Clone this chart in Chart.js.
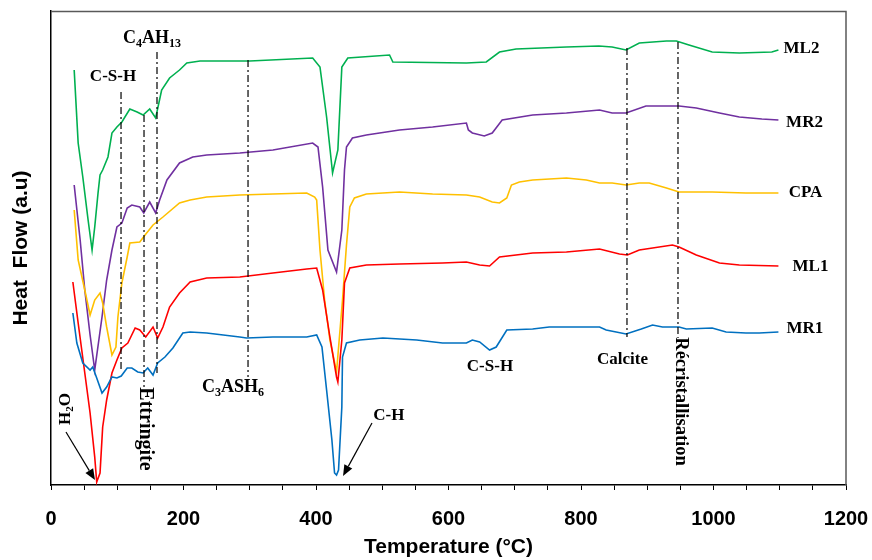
<!DOCTYPE html>
<html><head><meta charset="utf-8">
<script src="https://cdn.jsdelivr.net/npm/chart.js@4/dist/chart.umd.min.js"></script>
<style>html,body{margin:0;padding:0;background:#fff}</style>
</head><body>
<canvas id="c" width="872" height="560"></canvas>
<script>
// ---- data (temperature °C, heat flow a.u.) ----
const ML2_T = [35,41,48,56,62,66,71,74,78,86,92,99.5,107,119,130,139,149,158,167,179,194,205,225,300,395,406,416,425,433,439,448,511,516,627,657,677,702,778,827,847,868,888,929,944,963,998,1039,1088,1098];
const ML2_V = [415,342,308,265,235,258,292,310,315,328,352,358,363,376,373,370,376,367,395,407,415,422,424,424,427,418,368,312,335,418,427,430,423,422,423,433,436,438,439,438,435,442,444,444,440,433,432,433,435];

const MR2_T = [35,44,51,59,66,77,84,92,99.5,107,115,122,134,140,149,158,164,175,194,214,235,285,335,395,403,410,418,431,439,443,446,455,476,526,576,627,630,636,654,666,681,727,778,828,847,868,898,948,974,1009,1039,1073,1098];
const MR2_V = [300,245,195,150,115,168,205,235,258,262,277,280,278,272,283,272,285,305,322,328,330,332,335,342,338,298,235,213,255,315,338,347,350,355,358,362,355,352,349,352,365,370,372,375,372,372,379,379,377,372,368,366,365];

const CPA_T = [35,41,51,59,66,74,78,84,92,98,101,107,115,119,134,142,154,169,194,210,235,285,335,386,398,401,406,413,421,431,440,446,451,458,476,526,576,627,647,666,677,688,695,707,727,778,808,828,847,868,888,903,929,948,998,1049,1098];
const CPA_V = [275,225,195,170,185,192,182,158,130,138,168,202,228,242,243,250,260,268,282,285,288,290,291,292,288,285,235,185,145,113,185,240,278,287,291,293,291,290,288,283,282,287,300,303,305,307,305,302,302,300,302,302,297,293,293,292,292];

const ML1_T = [33,41,51,59,66,69,74,78,84,92,99.5,107,116,127,134,143,154,161,169,179,194,210,235,285,335,386,401,410,421,431,433,439,443,451,476,526,591,627,647,662,677,727,778,828,858,870,888,938,948,974,1009,1039,1098];
const ML1_V = [203,162,112,72,28,3,12,58,85,112,125,137,142,157,155,148,158,147,158,178,192,203,207,208,212,216,217,195,148,108,103,145,202,217,220,221,222,223,220,219,228,232,233,236,231,230,235,240,238,230,222,220,219];

const MR1_T = [33,39,48,59,63,69,77,84,92,99.5,106,115,122,131,139,146,154,161,172,184,199,210,235,285,295,335,386,401,409,416,424,428,431,434,439,440,446,466,501,552,591,627,636,647,662,672,688,727,752,828,838,868,891,908,923,948,959,998,1019,1049,1069,1098];
const MR1_V = [172,142,122,115,118,107,92,98,108,107,109,117,117,113,112,117,110,122,128,137,152,153,152,148,147,148,148,150,138,95,45,12,10,15,78,128,142,145,147,145,142,142,145,143,135,138,155,156,158,158,155,151,156,160,158,158,156,157,153,152,152,153];

// vertical dash-dot marker lines
const MARK_T      = [105.7, 140.4, 160, 297.4, 869.4, 946.4];
const MARK_TOP    = [393, 370, 433, 425, 437, 443];
const MARK_BOTTOM = [113, 98, 112, 108, 148, 147];

// x tick labels
const X_TICK_LABELS = [0, 200, 400, 600, 800, 1000, 1200];

// series names & colors
const SERIES_NAMES = ['MR1', 'ML1', 'CPA', 'MR2', 'ML2'];
const SERIES_COLORS = ['#0070C0', '#FF0000', '#FFC000', '#7030A0', '#00B050'];
const SERIES_T = [MR1_T, ML1_T, CPA_T, MR2_T, ML2_T];
const SERIES_V = [MR1_V, ML1_V, CPA_V, MR2_V, ML2_V];
const SERIES_LABEL_AT = [[1138, 157.5], [1146.4, 219.5], [1138.9, 294], [1137.4, 364], [1132.8, 437.5]];

// annotation texts: segments [text, isSubscript], position (T, v), rotation (deg)
const NOTES = [
  {segs: [['C'], ['4', 1], ['AH'], ['13', 1]], at: [152.5, 447.5], rot: 0, size: 18},
  {segs: [['C-S-H']], at: [93.6, 410], rot: 0, size: 17},
  {segs: [['Ettringite']], at: [144.9, 56], rot: 90, size: 20},
  {segs: [['C'], ['3', 1], ['ASH'], ['6', 1]], at: [274.7, 99], rot: 0, size: 18},
  {segs: [['H'], ['2', 1], ['O']], at: [19.6, 76], rot: -90, size: 17},
  {segs: [['C-H']], at: [510, 71], rot: 0, size: 17},
  {segs: [['C-S-H']], at: [662.6, 120], rot: 0, size: 17},
  {segs: [['Calcite']], at: [862.6, 127], rot: 0, size: 17},
  {segs: [['Récristallisation']], at: [953, 83.5], rot: 90, size: 18.5}
];
// arrows: from (T,v) to tip (T,v)
const ARROWS = [
  {from: [22.6, 53], to: [66.4, 5]},
  {from: [484.5, 62], to: [440.8, 9]}
];

const datasets = [];
for (let i = 0; i < MARK_T.length; i++) {
  datasets.push({
    data: [{x: MARK_T[i], y: MARK_TOP[i]}, {x: MARK_T[i], y: MARK_BOTTOM[i]}],
    borderColor: '#000', borderWidth: 1.2, borderDash: [7, 3, 2, 3],
    pointRadius: 0, fill: false
  });
}
for (let s = 0; s < SERIES_NAMES.length; s++) {
  datasets.push({
    label: SERIES_NAMES[s],
    data: SERIES_T[s].map((t, k) => ({x: t, y: SERIES_V[s][k]})),
    borderColor: SERIES_COLORS[s], borderWidth: 1.6,
    pointRadius: 0, fill: false, tension: 0
  });
}

const SERIF = '"Liberation Serif", "Times New Roman", serif';
function drawRich(ctx, segs, size) {
  const sub = Math.round(size * 0.65);
  let w = 0;
  const parts = segs.map(([t, s]) => {
    ctx.font = 'bold ' + (s ? sub : size) + 'px ' + SERIF;
    const pw = ctx.measureText(t).width; w += pw;
    return {t, s, pw};
  });
  let x = -w / 2;
  const base = size * 0.33;
  ctx.textBaseline = 'alphabetic'; ctx.textAlign = 'left';
  for (const p of parts) {
    ctx.font = 'bold ' + (p.s ? sub : size) + 'px ' + SERIF;
    ctx.fillText(p.t, x, p.s ? base + size * 0.22 : base);
    x += p.pw;
  }
}

const notesPlugin = {
  id: 'notes',
  afterDatasetsDraw(chart) {
    const {ctx, chartArea: a, scales: {x, y}} = chart;
    ctx.save();
    // top & right frame
    ctx.strokeStyle = '#595959'; ctx.lineWidth = 1.5;
    ctx.beginPath(); ctx.moveTo(a.left, a.top + 0.5); ctx.lineTo(a.right, a.top + 0.5); ctx.lineTo(a.right, a.bottom); ctx.stroke();
    ctx.fillStyle = '#000';
    for (const n of NOTES) {
      ctx.save();
      ctx.translate(x.getPixelForValue(n.at[0]), y.getPixelForValue(n.at[1]));
      ctx.rotate(n.rot * Math.PI / 180);
      drawRich(ctx, n.segs, n.size);
      ctx.restore();
    }
    for (let s = 0; s < SERIES_NAMES.length; s++) {
      ctx.save();
      ctx.translate(x.getPixelForValue(SERIES_LABEL_AT[s][0]), y.getPixelForValue(SERIES_LABEL_AT[s][1]));
      drawRich(ctx, [[SERIES_NAMES[s]]], 17);
      ctx.restore();
    }
    for (const ar of ARROWS) {
      const x0 = x.getPixelForValue(ar.from[0]), y0 = y.getPixelForValue(ar.from[1]);
      const x1 = x.getPixelForValue(ar.to[0]), y1 = y.getPixelForValue(ar.to[1]);
      const ang = Math.atan2(y1 - y0, x1 - x0);
      const L = 11, W = 4.5;
      const bx = x1 - L * Math.cos(ang), by = y1 - L * Math.sin(ang);
      ctx.strokeStyle = '#000'; ctx.lineWidth = 1.2;
      ctx.beginPath(); ctx.moveTo(x0, y0); ctx.lineTo(bx, by); ctx.stroke();
      ctx.beginPath();
      ctx.moveTo(x1, y1);
      ctx.lineTo(bx + W * Math.sin(ang), by - W * Math.cos(ang));
      ctx.lineTo(bx - W * Math.sin(ang), by + W * Math.cos(ang));
      ctx.closePath(); ctx.fill();
    }
    ctx.restore();
  }
};

const SANS = '"Liberation Sans", Arial, sans-serif';
new Chart(document.getElementById('c'), {
  type: 'line',
  data: {datasets},
  plugins: [notesPlugin],
  options: {
    responsive: false, animation: false,
    layout: {padding: {top: 11, right: 26, left: 0, bottom: 0}},
    plugins: {legend: {display: false}, tooltip: {enabled: false}},
    scales: {
      x: {
        type: 'linear', min: 0, max: 1200,
        afterFit: s => { s.height = 75; s.paddingRight = 0; s.paddingLeft = 0; },
        ticks: {
          stepSize: 50, autoSkip: false, maxRotation: 0, minRotation: 0, padding: 17,
          callback: v => X_TICK_LABELS.includes(v) ? String(v) : '',
          font: {family: SANS, size: 20, weight: 'bold'}, color: '#000'
        },
        grid: {display: true, drawOnChartArea: false, drawTicks: true, tickLength: 5, color: '#000', lineWidth: 1},
        border: {display: true, color: '#000', width: 1.5},
        title: {display: true, text: 'Temperature (°C)', color: '#000',
          font: {family: SANS, size: 21, weight: 'bold'}, padding: {top: 0, bottom: 0.5}}
      },
      y: {
        min: 0, max: 474,
        afterFit: s => { s.width = 51; },
        ticks: {display: false},
        grid: {display: false},
        border: {display: true, color: '#000', width: 1.5},
        title: {display: true, text: 'Heat  Flow (a.u)', color: '#000',
          font: {family: SANS, size: 21, weight: 'bold'}, padding: {top: 9, bottom: 0}}
      }
    }
  }
});
</script>
</body></html>
